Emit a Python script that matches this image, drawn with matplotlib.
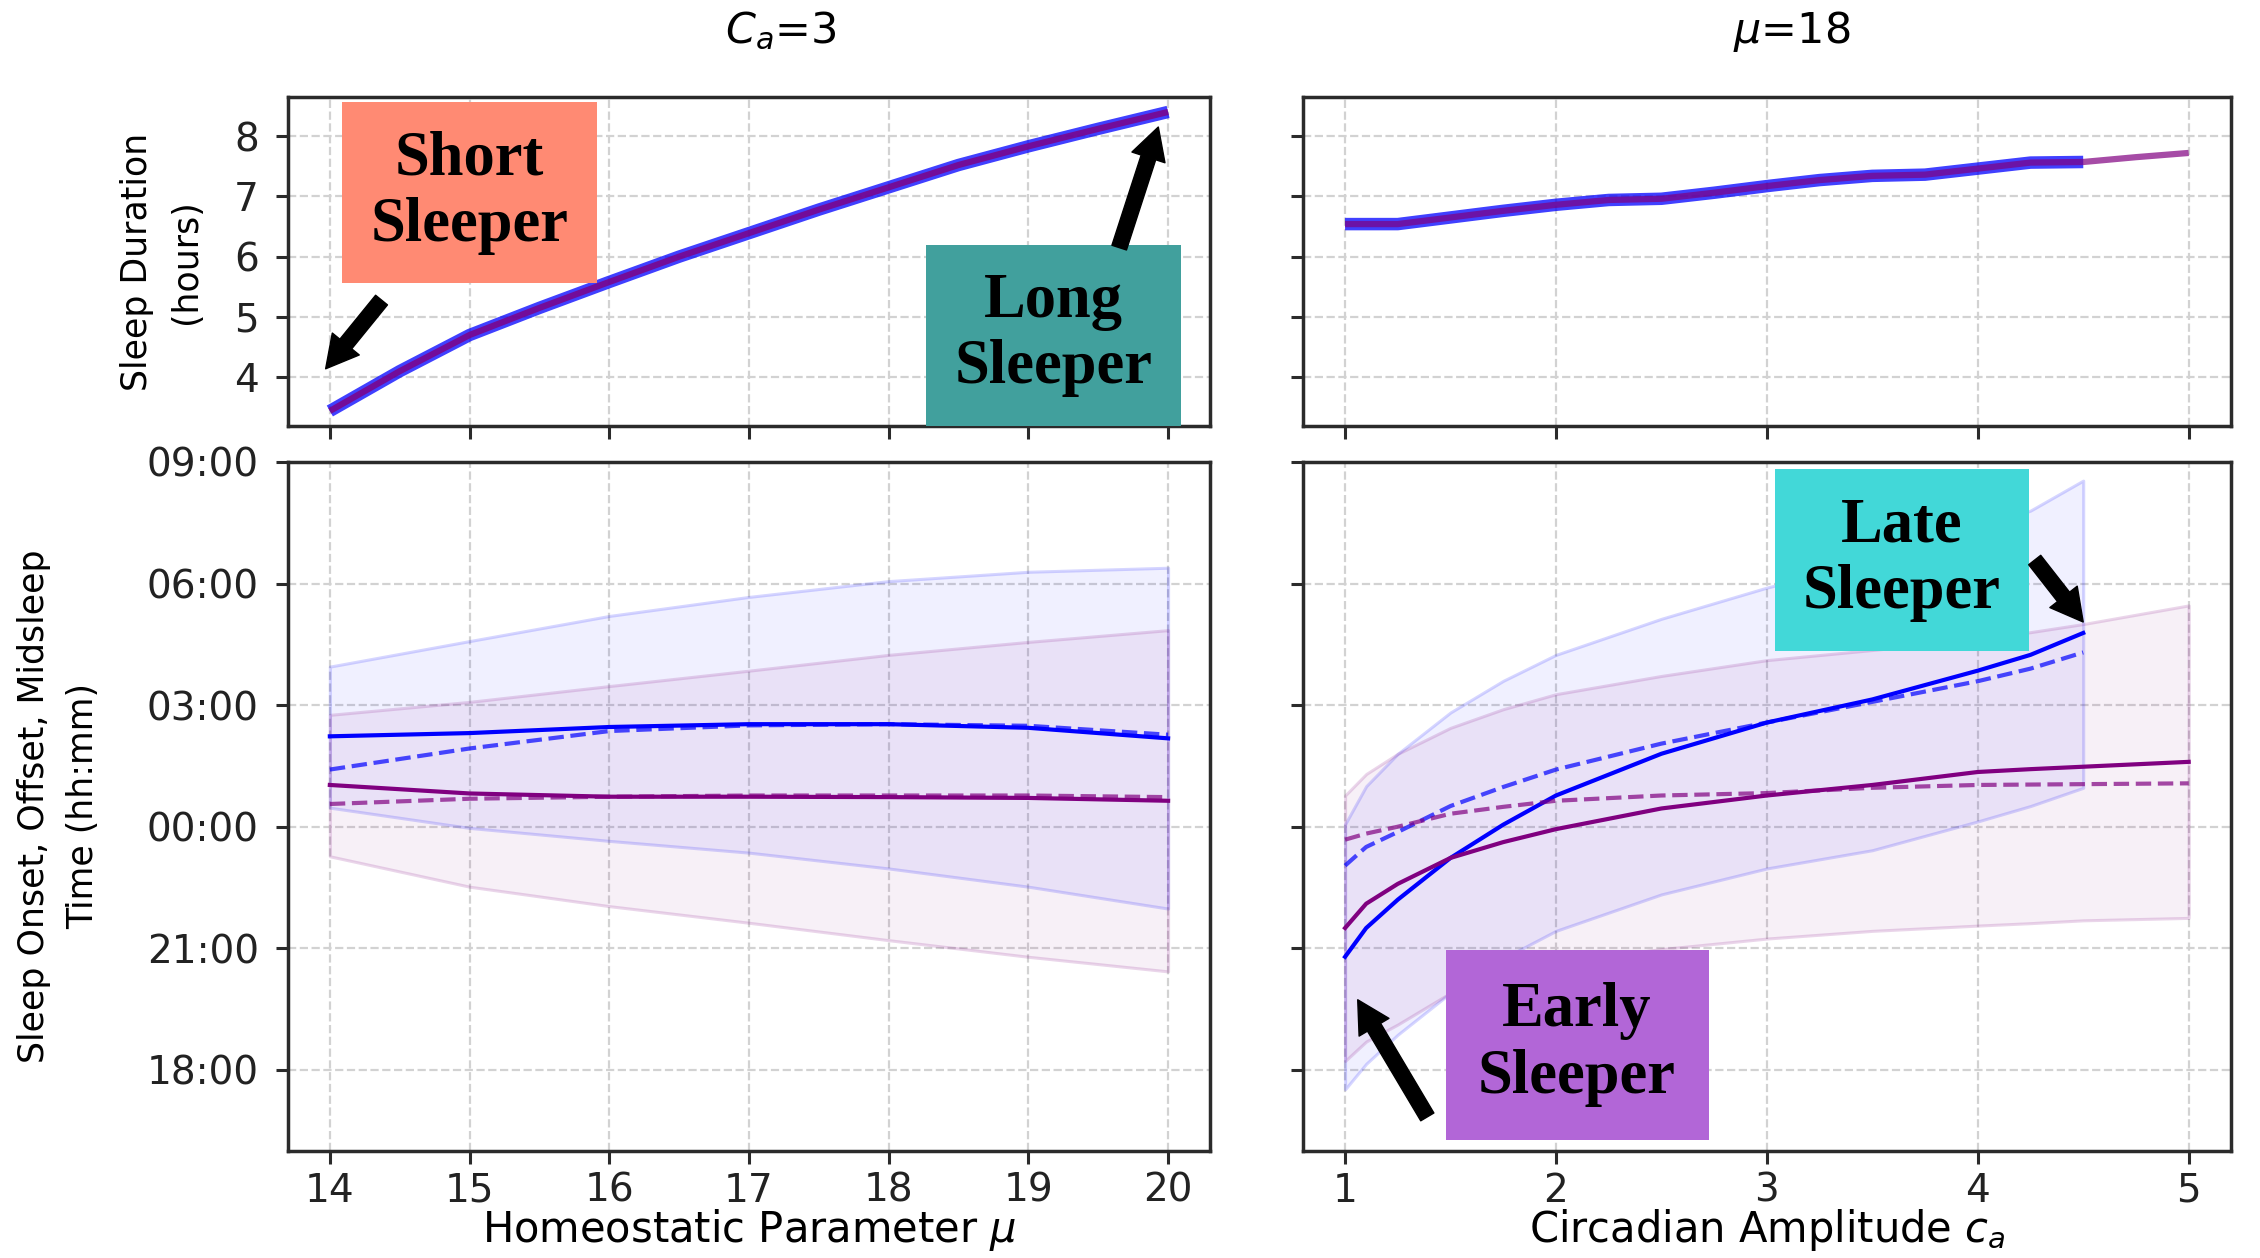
"""
Sleep duration / timing sweeps: homeostatic parameter mu (left) and
circadian amplitude c_a (right).
"""

import numpy as np
import matplotlib
matplotlib.use("Agg")
import matplotlib.pyplot as plt
from matplotlib.ticker import FuncFormatter

# ── Data (hours; times given as hours after midnight of day 0) ──
# left column: sweep over mu, C_a = 3
mu_dur = [14, 14.5, 15, 15.5, 16, 16.5, 17, 17.5, 18, 18.5, 19, 19.5, 20]
dur_mu = [3.44, 4.10, 4.70, 5.15, 5.58, 6.00, 6.39, 6.78, 7.15, 7.52, 7.83, 8.12, 8.40]

mu = [14, 15, 16, 17, 18, 19, 20]
blue_hi_mu = [27.95, 28.58, 29.20, 29.67, 30.06, 30.29, 30.39]
blue_lo_mu = [24.47, 23.97, 23.65, 23.36, 22.97, 22.52, 21.98]
purp_hi_mu = [26.76, 27.08, 27.47, 27.85, 28.24, 28.56, 28.85]
purp_lo_mu = [23.27, 22.52, 22.04, 21.63, 21.20, 20.79, 20.43]
blue_mid_mu = [26.23, 26.31, 26.46, 26.53, 26.53, 26.44, 26.18]
blue_dash_mu = [25.41, 25.93, 26.36, 26.50, 26.53, 26.49, 26.27]
purp_mid_mu = [25.03, 24.82, 24.74, 24.74, 24.73, 24.71, 24.64]
purp_dash_mu = [24.56, 24.69, 24.74, 24.77, 24.77, 24.77, 24.73]

# right column: sweep over c_a, mu = 18
ca_dur_blue = [1, 1.25, 1.5, 1.75, 2, 2.25, 2.5, 2.75, 3, 3.25, 3.5, 3.75, 4, 4.25, 4.5]
dur_ca_blue = [6.54, 6.54, 6.65, 6.76, 6.86, 6.94, 6.96, 7.06, 7.17, 7.27, 7.34, 7.36, 7.46, 7.56, 7.57]
ca_dur_purp = ca_dur_blue + [4.75, 5]
dur_ca_purp = dur_ca_blue + [7.65, 7.72]

ca_blue = [1, 1.1, 1.25, 1.5, 1.75, 2, 2.5, 3, 3.5, 4, 4.25, 4.5]
blue_hi_ca = [24.06, 25.00, 25.80, 26.82, 27.60, 28.24, 29.13, 29.90, 30.55, 31.32, 31.80, 32.54]
blue_lo_ca = [17.52, 18.15, 18.87, 19.90, 20.75, 21.43, 22.33, 22.97, 23.42, 24.13, 24.51, 24.96]
blue_mid_ca = [20.79, 21.50, 22.20, 23.23, 24.05, 24.77, 25.80, 26.57, 27.14, 27.85, 28.24, 28.78]
blue_dash_ca = [23.04, 23.50, 23.87, 24.51, 24.98, 25.41, 26.05, 26.57, 27.08, 27.59, 27.90, 28.30]

ca_purp = [1, 1.1, 1.25, 1.5, 1.75, 2, 2.5, 3, 3.5, 4, 4.25, 4.5, 5]
purp_hi_ca = [24.77, 25.30, 25.80, 26.44, 26.90, 27.27, 27.72, 28.11, 28.36, 28.62, 28.80, 29.00, 29.46]
purp_lo_ca = [18.22, 18.70, 19.12, 19.90, 20.35, 20.66, 20.98, 21.24, 21.43, 21.56, 21.62, 21.69, 21.75]
purp_mid_ca = [21.50, 22.10, 22.59, 23.23, 23.62, 23.94, 24.45, 24.77, 25.03, 25.35, 25.42, 25.48, 25.60]
purp_dash_ca = [23.68, 23.83, 24.00, 24.32, 24.49, 24.64, 24.77, 24.83, 24.96, 25.03, 25.04, 25.05, 25.07]

time_ticks = [18, 21, 24, 27, 30, 33]

# ── Style ─────────────────────────────────────────────────
plt.rcParams.update({
    "font.family": "DejaVu Sans",
    "axes.edgecolor": "#2b2b2b",
    "axes.linewidth": 2.5,
    "xtick.color": "#2b2b2b",
    "ytick.color": "#2b2b2b",
    "xtick.labelcolor": "#222222",
    "ytick.labelcolor": "#222222",
})

BLUE = "blue"
PURP = "purple"
BOX_FONT = dict(family="Liberation Serif", fontweight="bold", fontsize=45,
                linespacing=1.2, ha="center", va="center", color="black")
ARROW = dict(facecolor="black", edgecolor="black", width=11,
             headwidth=25, headlength=23, shrink=0)

fig = plt.figure(figsize=(22.6, 12.58), dpi=100)
fig.patch.set_facecolor("white")

ax_tl = fig.add_axes([0.1274, 0.6614, 0.4080, 0.2615])
ax_tr = fig.add_axes([0.5765, 0.6614, 0.4106, 0.2615], sharey=ax_tl)
ax_bl = fig.add_axes([0.1274, 0.0851, 0.4080, 0.5477], sharex=ax_tl)
ax_br = fig.add_axes([0.5765, 0.0851, 0.4106, 0.5477], sharex=ax_tr, sharey=ax_bl)

for ax in (ax_tl, ax_tr, ax_bl, ax_br):
    ax.grid(True, linestyle="--", color="#d2d2d2", linewidth=1.6)
    ax.set_axisbelow(True)
    ax.tick_params(axis="both", direction="out", length=9, width=2.2, labelsize=28)
    ax.tick_params(axis="x", pad=6)
    ax.tick_params(axis="y", pad=12)

ax_tl.tick_params(labelbottom=False)
ax_tr.tick_params(labelbottom=False, labelleft=False)
ax_br.tick_params(labelleft=False)

# ── Top row: sleep duration ───────────────────────────────
ax_tl.plot(mu_dur, dur_mu, color=BLUE, lw=9, alpha=0.75, solid_capstyle="butt")
ax_tl.plot(mu_dur, dur_mu, color=PURP, lw=4.5, alpha=0.8, solid_capstyle="butt")
ax_tr.plot(ca_dur_blue, dur_ca_blue, color=BLUE, lw=9, alpha=0.75, solid_capstyle="butt")
ax_tr.plot(ca_dur_purp, dur_ca_purp, color=PURP, lw=4.5, alpha=0.7, solid_capstyle="butt")

ax_tl.set_yticks([4, 5, 6, 7, 8])
ax_tl.set_xticks([14, 15, 16, 17, 18, 19, 20])
ax_tr.set_xticks([1, 2, 3, 4, 5])
ax_tl.set_ylabel("Sleep Duration\n(hours)", fontsize=25, linespacing=1.55)
ax_tl.yaxis.set_label_coords(-0.092, 0.5)

# ── Bottom row: onset / offset / midsleep ─────────────────
def draw_timing(ax, xb, b_lo, b_hi, b_mid, b_dash, xp, p_lo, p_hi, p_mid, p_dash):
    ax.fill_between(xb, b_lo, b_hi, facecolor=(0, 0, 1, 0.06),
                    edgecolor=(0, 0, 1, 0.16), linewidth=2.2)
    ax.fill_between(xp, p_lo, p_hi, facecolor=(0.5, 0, 0.5, 0.06),
                    edgecolor=(0.5, 0, 0.5, 0.16), linewidth=2.2)
    ax.plot(xb, b_mid, color=BLUE, lw=3)
    ax.plot(xb, b_dash, color=BLUE, lw=3, ls="--", alpha=0.7)
    ax.plot(xp, p_mid, color=PURP, lw=3)
    ax.plot(xp, p_dash, color=PURP, lw=3, ls="--", alpha=0.7)

draw_timing(ax_bl, mu, blue_lo_mu, blue_hi_mu, blue_mid_mu, blue_dash_mu,
            mu, purp_lo_mu, purp_hi_mu, purp_mid_mu, purp_dash_mu)
draw_timing(ax_br, ca_blue, blue_lo_ca, blue_hi_ca, blue_mid_ca, blue_dash_ca,
            ca_purp, purp_lo_ca, purp_hi_ca, purp_mid_ca, purp_dash_ca)

ax_bl.set_ylim(16, 33)
ax_bl.set_yticks(time_ticks)
ax_bl.yaxis.set_major_formatter(FuncFormatter(lambda v, p: f"{int(round(v)) % 24:02d}:00"))
ax_bl.set_ylabel("Sleep Onset, Offset, Midsleep\nTime (hh:mm)", fontsize=25, linespacing=1.55)
ax_bl.yaxis.set_label_coords(-0.204, 0.5)

# x labels sit right at the bottom edge, as in the original crop
ax_bl.set_xlabel("Homeostatic Parameter $\\mu$", fontsize=30)
ax_bl.xaxis.set_label_coords(0.5, -0.082)
ax_br.set_xlabel("Circadian Amplitude $c_a$", fontsize=30)
ax_br.xaxis.set_label_coords(0.5, -0.082)

# ── Column titles ─────────────────────────────────────────
fig.text(781 / 2260, 0.975, "$C_a$=3", ha="center", va="center", fontsize=31)
fig.text(1792 / 2260, 0.975, "$\\mu$=18", ha="center", va="center", fontsize=31)

# ── Callout boxes ─────────────────────────────────────────
ax_tl.text(15.0, 7.06, "Short\nSleeper",
           bbox=dict(boxstyle="square,pad=0.45", fc="#ff8a73", ec="none"), **BOX_FONT)
ax_tl.annotate("", xy=(13.97, 4.14), xytext=(14.37, 5.28), arrowprops=ARROW)

ax_tl.text(19.18, 4.70, "Long\nSleeper",
           bbox=dict(boxstyle="square,pad=0.45", fc="#41a09d", ec="none"), **BOX_FONT)
ax_tl.annotate("", xy=(19.93, 8.15), xytext=(19.65, 6.15), arrowprops=ARROW)

ax_br.text(3.64, 30.58, "Late\nSleeper",
           bbox=dict(boxstyle="square,pad=0.45", fc="#42d8d8", ec="none"), **BOX_FONT)
ax_br.annotate("", xy=(4.50, 29.05), xytext=(4.27, 30.58), arrowprops=ARROW)

ax_br.text(2.10, 18.62, "Early\nSleeper",
           bbox=dict(boxstyle="square,pad=0.52", fc="#b266d7", ec="none"), **BOX_FONT)
ax_br.annotate("", xy=(1.06, 19.73), xytext=(1.39, 16.84), arrowprops=ARROW)

fig.savefig("out.png", dpi=100, facecolor=fig.get_facecolor())
plt.close(fig)
